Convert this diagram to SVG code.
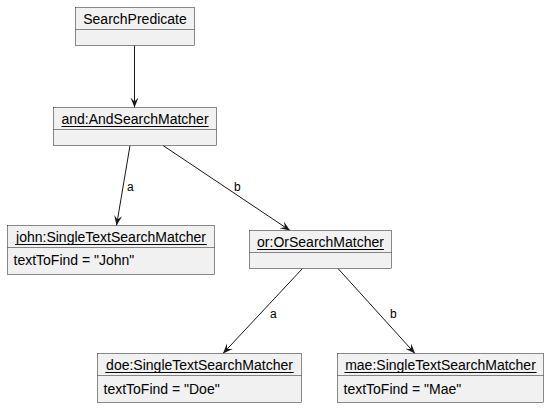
<svg xmlns="http://www.w3.org/2000/svg" width="549" height="408" viewBox="0 0 549 408">
<style>
.box{fill:#F1F1F1;stroke:#181818;stroke-width:0.5}
.div{stroke:#181818;stroke-width:0.5}
.ul{stroke:#000;stroke-width:1}
.t{font-family:"Liberation Sans",Arial,sans-serif;font-size:14px;fill:#000}
.lbl{font-family:"Liberation Sans",Arial,sans-serif;font-size:12px;fill:#000}
.e{stroke:#181818;stroke-width:1;fill:none}
</style>
<defs>
<marker id="ah" viewBox="0 0 10 10" refX="10" refY="5" markerWidth="10" markerHeight="10" markerUnits="userSpaceOnUse" orient="auto">
<polygon points="10,5 0,1 4,5 0,9" fill="#181818"/>
</marker>
</defs>
<rect width="549" height="408" fill="#FFFFFF"/>
<g id="connectors">
<line class="e" x1="134.5" y1="45.5" x2="134.5" y2="107.5" marker-end="url(#ah)"/>
<line class="e" x1="130" y1="145.5" x2="116.5" y2="225.5" marker-end="url(#ah)"/>
<text class="lbl" x="127" y="191">a</text>
<line class="e" x1="163" y1="145.5" x2="290" y2="230.5" marker-end="url(#ah)"/>
<text class="lbl" x="234" y="191">b</text>
<line class="e" x1="302.5" y1="268.5" x2="223" y2="353.5" marker-end="url(#ah)"/>
<text class="lbl" x="270" y="318">a</text>
<line class="e" x1="338" y1="268.5" x2="415" y2="353.5" marker-end="url(#ah)"/>
<text class="lbl" x="390" y="318">b</text>
</g>
<g id="searchPredicate">
<rect class="box" x="75.5" y="7.5" width="119" height="38"/>
<line class="div" x1="75.5" y1="29.5" x2="194.5" y2="29.5"/>
<text class="t" x="135" y="24" text-anchor="middle">SearchPredicate</text>
</g>
<g id="and">
<rect class="box" x="53.5" y="107.5" width="163" height="38"/>
<line class="div" x1="53.5" y1="129.5" x2="216.5" y2="129.5"/>
<text class="t" x="135" y="124" text-anchor="middle">and:AndSearchMatcher</text>
<line class="ul" x1="61.4" y1="126.5" x2="208.6" y2="126.5"/>
</g>
<g id="john">
<rect class="box" x="7.5" y="225.5" width="207" height="49"/>
<line class="div" x1="7.5" y1="247.5" x2="214.5" y2="247.5"/>
<text class="t" x="111" y="242" text-anchor="middle">john:SingleTextSearchMatcher</text>
<line class="ul" x1="15.2" y1="244.5" x2="206.8" y2="244.5"/>
<text class="t" x="13.5" y="265">textToFind = "John"</text>
</g>
<g id="or">
<rect class="box" x="249.5" y="230.5" width="142" height="38"/>
<line class="div" x1="249.5" y1="252.5" x2="391.5" y2="252.5"/>
<text class="t" x="320.5" y="247" text-anchor="middle">or:OrSearchMatcher</text>
<line class="ul" x1="257.1" y1="249.5" x2="383.9" y2="249.5"/>
</g>
<g id="doe">
<rect class="box" x="97.5" y="353.5" width="204" height="49"/>
<line class="div" x1="97.5" y1="375.5" x2="301.5" y2="375.5"/>
<text class="t" x="199.5" y="370" text-anchor="middle">doe:SingleTextSearchMatcher</text>
<line class="ul" x1="105.3" y1="372.5" x2="293.7" y2="372.5"/>
<text class="t" x="103.5" y="394">textToFind = "Doe"</text>
</g>
<g id="mae">
<rect class="box" x="337.5" y="353.5" width="206" height="49"/>
<line class="div" x1="337.5" y1="375.5" x2="543.5" y2="375.5"/>
<text class="t" x="440.5" y="370" text-anchor="middle">mae:SingleTextSearchMatcher</text>
<line class="ul" x1="344.4" y1="372.5" x2="536.6" y2="372.5"/>
<text class="t" x="343.5" y="394">textToFind = "Mae"</text>
</g>
</svg>
